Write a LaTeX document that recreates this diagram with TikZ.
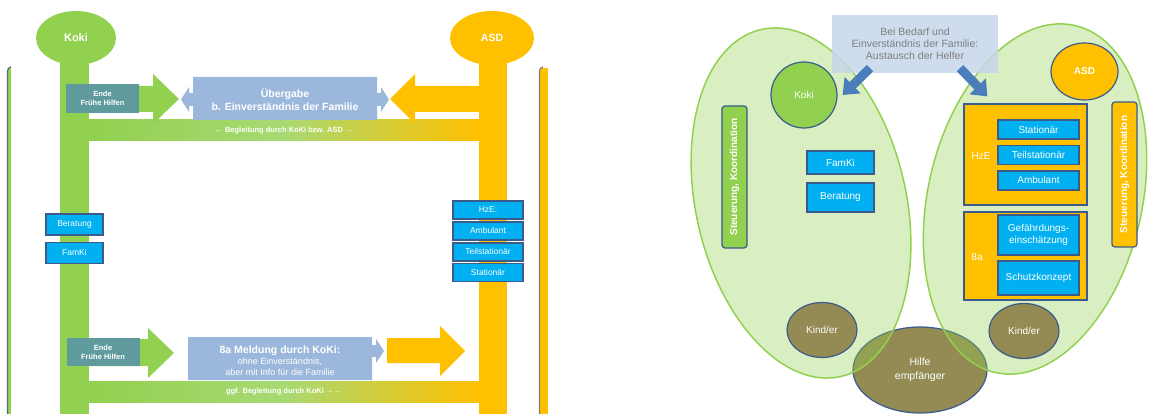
\documentclass[tikz,border=0pt]{standalone}
\usepackage{fontspec}
\setmainfont{Liberation Sans}
\usepackage{tikz}
\usetikzlibrary{shapes.geometric,arrows.meta,positioning}

\definecolor{kokigreen}{HTML}{92D050}
\definecolor{asdyellow}{HTML}{FFC000}
\definecolor{endeteal}{HTML}{5F9A9D}
\definecolor{uebblue}{HTML}{9BB7DC}
\definecolor{boxcyan}{HTML}{00B0F0}
\definecolor{edgeblue}{HTML}{3B5B8C}
\definecolor{kindolive}{HTML}{948A54}
\definecolor{pfeilblue}{HTML}{4A7EBB}
\definecolor{helpblue}{HTML}{C5D6EA}
\definecolor{helptext}{HTML}{7F7F7F}

\begin{document}
\begin{tikzpicture}[x=1pt,y=-1pt,
		headell/.style={ellipse,inner sep=0pt,text=white,font=\bfseries\fontsize{10.5}{12}\selectfont},
		endebox/.style={rectangle,fill=endeteal,text=white,align=center,inner sep=0pt,minimum width=73pt,minimum height=29pt,font=\bfseries\fontsize{7.5}{9}\selectfont},
		smallbox/.style={rectangle,draw=edgeblue,line width=1.2pt,fill=boxcyan,text=white,inner sep=0pt,minimum width=57pt,minimum height=21pt,font=\fontsize{8.5}{10}\selectfont},
		bigbox/.style={rectangle,draw=edgeblue,line width=1.2pt,fill=boxcyan,text=white,align=center,inner sep=0pt,minimum width=81pt,minimum height=19pt,font=\fontsize{10}{12}\selectfont},
		framebox/.style={rectangle,draw=edgeblue,line width=1.2pt,fill=asdyellow,inner sep=0pt,minimum width=123pt},
		steuer/.style={rectangle,rounded corners=3pt,draw=edgeblue,line width=1.2pt,text=white,rotate=90,inner sep=0pt,minimum width=142pt,minimum height=25pt,font=\bfseries\fontsize{10}{12}\selectfont},
		kindell/.style={ellipse,draw=edgeblue,line width=1.2pt,fill=kindolive,text=white,align=center,inner sep=0pt,minimum width=70pt,minimum height=55pt,font=\fontsize{10}{12}\selectfont},
		bartext/.style={text=white,inner sep=0pt,font=\bfseries\fontsize{7.5}{9}\selectfont},
		whitelab/.style={text=white,inner sep=0pt,font=\fontsize{10}{12}\selectfont},
		helparrow/.style={pfeilblue,line width=9pt,-{Triangle[length=14pt,width=22pt]}}
		]
		\useasboundingbox (0,0) rectangle (1150,414);
		\clip (0,0) rectangle (1150,414);

		% left panel
		\fill[kokigreen] (7.5,68) rectangle (11,414);
		\draw[edgeblue!60!gray,line width=1.2pt] (7.5,414) -- (7.5,71) to[out=90,in=180] (11,67);
		\fill[asdyellow] (540,68) rectangle (548,414);
		\draw[gray,line width=1.2pt] (539.5,414) -- (539.5,71) to[out=90,in=180] (543,67);

		\fill[kokigreen] (60,50) rectangle (89,414);
		\fill[asdyellow] (479,50) rectangle (507,414);
		\node[headell,fill=kokigreen,minimum width=80pt,minimum height=54pt,font=\bfseries\fontsize{11}{12}\selectfont](Koki) at (76,38){Koki};
		\node[headell,fill=asdyellow,minimum width=84pt,minimum height=54pt](ASD) at (492,38){ASD};

		\shade[left color=kokigreen,right color=asdyellow,middle color=kokigreen!80!white] (89,120) rectangle (479,141);
		\shade[left color=kokigreen,right color=asdyellow,middle color=kokigreen!80!white] (89,381) rectangle (479,402);
		\node[bartext](Begl1) at (284,130.5){← Begleitung durch KoKi bzw. ASD →};
		\node[bartext](Begl2) at (283.5,391.5){ggf. Begleitung durch KoKi →→};

		\fill[kokigreen] (89,86) -- (153,86) -- (153,74) -- (179,99) -- (153,124) -- (153,112) -- (89,112) -- cycle;
		\fill[asdyellow] (479,86) -- (415,86) -- (415,74) -- (390,99) -- (415,124) -- (415,112) -- (479,112) -- cycle;
		\node[endebox](Ende1) at (102.5,98.5){Ende\\Frühe Hilfen};
		\fill[uebblue] (193,77) -- (377,77) -- (377,93) -- (381,93) -- (381,87) -- (389,99.5) -- (381,112) -- (381,106) -- (377,106) -- (377,120) -- (193,120) -- (193,106) -- (189,106) -- (189,112) -- (181,99.5) -- (189,87) -- (189,93) -- (193,93) -- cycle;
		\node[text=white,align=center,inner sep=0pt,font=\bfseries\fontsize{10.5}{13}\selectfont](Ueber) at (285,99.5){Übergabe\\b. Einverständnis der Familie};

		\node[smallbox](Ber) at (74.5,224.5){Beratung};
		\node[smallbox, below of = Ber](Fam){FamKi};
		\node[smallbox,minimum width=70pt,minimum height=18pt](HzE1) at (488,210){HzE:};
		\node[smallbox,minimum width=70pt,minimum height=18pt, below of = HzE1, yshift = 7.5pt](Amb1){Ambulant};
		\node[smallbox,minimum width=70pt,minimum height=18pt, below of = Amb1, yshift = 7.5pt](Teil1){Teilstationär};
		\node[smallbox,minimum width=70pt,minimum height=18pt, below of = Teil1, yshift = 7.5pt](Stat1){Stationär};

		\fill[kokigreen] (89,339) -- (148,339) -- (148,328) -- (174,353) -- (148,378) -- (148,366) -- (89,366) -- cycle;
		\node[endebox,minimum height=28pt](Ende2) at (103,352){Ende\\Frühe Hilfen};
		\fill[uebblue] (188,337) -- (372,337) -- (372,345) -- (376,345) -- (376,339) -- (384,351) -- (376,363) -- (376,357) -- (372,357) -- (372,380) -- (188,380) -- cycle;
		\node[text=white,align=center,inner sep=0pt,font=\fontsize{9}{11}\selectfont](Meld) at (280,360.5){{\bfseries\fontsize{10.5}{12}\selectfont 8a Meldung durch KoKi:}\\ohne Einverständnis,\\aber mit Info für die Familie};
		\fill[asdyellow] (387,338) -- (440,338) -- (440,326) -- (465,351) -- (440,376) -- (440,363) -- (387,363) -- cycle;

		% right panel
		\node[kindell,minimum width=134pt,minimum height=86pt,font=\fontsize{10.5}{14.5}\selectfont](Hilfe) at (920,370){Hilfe\\empfänger};
		\draw[kokigreen,line width=1.5pt,fill=kokigreen,fill opacity=0.35,rotate around={13:(801,203)}] (801,203) ellipse [x radius=105, y radius=178];
		\draw[kokigreen,line width=1.5pt,fill=kokigreen,fill opacity=0.35,rotate around={-13:(1035,199)}] (1035,199) ellipse [x radius=107, y radius=178];

		\node[kindell](Kind1) at (822,330){Kind/er};
		\node[kindell](Kind2) at (1024,331){Kind/er};

		\node[circle,draw=edgeblue,line width=1.2pt,fill=kokigreen,minimum size=66pt,inner sep=0pt,text=white,font=\fontsize{10}{12}\selectfont](Koki2) at (804,95){Koki};
		\node[headell,draw=edgeblue,line width=1.2pt,fill=asdyellow,minimum width=67pt,minimum height=57pt,font=\bfseries\fontsize{10}{12}\selectfont](ASD2) at (1084.5,71.5){ASD};

		\node[steuer,fill=kokigreen](Steu1) at (734.5,177){Steuerung, Koordination};
		\node[steuer,fill=asdyellow,minimum width=145pt](Steu2) at (1124.5,174.5){Steuerung, Koordination};

		\node[bigbox,minimum width=67pt,minimum height=23pt](Fam2) at (840.5,162.5){FamKi};
		\node[bigbox,minimum width=67pt,minimum height=29pt, below of = Fam2, yshift = -6.5pt](Ber2){Beratung};

		\node[framebox,minimum height=101pt](HzE2) at (1025.5,154.5){};
		\node[whitelab](HzElab) at (981,156){HzE};
		\node[bigbox](Stat2) at (1038.5,129.5){Stationär};
		\node[bigbox, below of = Stat2, yshift = 3pt](Teil2){Teilstationär};
		\node[bigbox, below of = Teil2, yshift = 3pt](Amb2){Ambulant};

		\node[framebox,minimum height=88pt](Par8a) at (1025.5,256){};
		\node[whitelab](Lab8a) at (977,257){8a};
		\node[bigbox,minimum height=40pt](Gef2) at (1038.5,235){Gefährdungs-\\einschätzung};
		\node[bigbox,minimum height=34pt, below of = Gef2, yshift = -14.5pt](Schutz2){Schutzkonzept};

		\node[rectangle,fill=helpblue,fill opacity=0.85,text opacity=1,text=helptext,align=center,minimum width=166pt,minimum height=58pt,inner sep=0pt,font=\fontsize{10.5}{12}\selectfont](Help) at (915,44){Bei Bedarf und\\Einverständnis der Familie:\\Austausch der Helfer};
		\draw[helparrow] ([xshift=-45pt,yshift=5pt]Help.south) -- ([xshift=5pt]Koki2.east);
		\draw[helparrow] ([xshift=45pt,yshift=5pt]Help.south) -- ([xshift=24pt,yshift=7pt]HzE2.north west);
	\end{tikzpicture}
\end{document}
